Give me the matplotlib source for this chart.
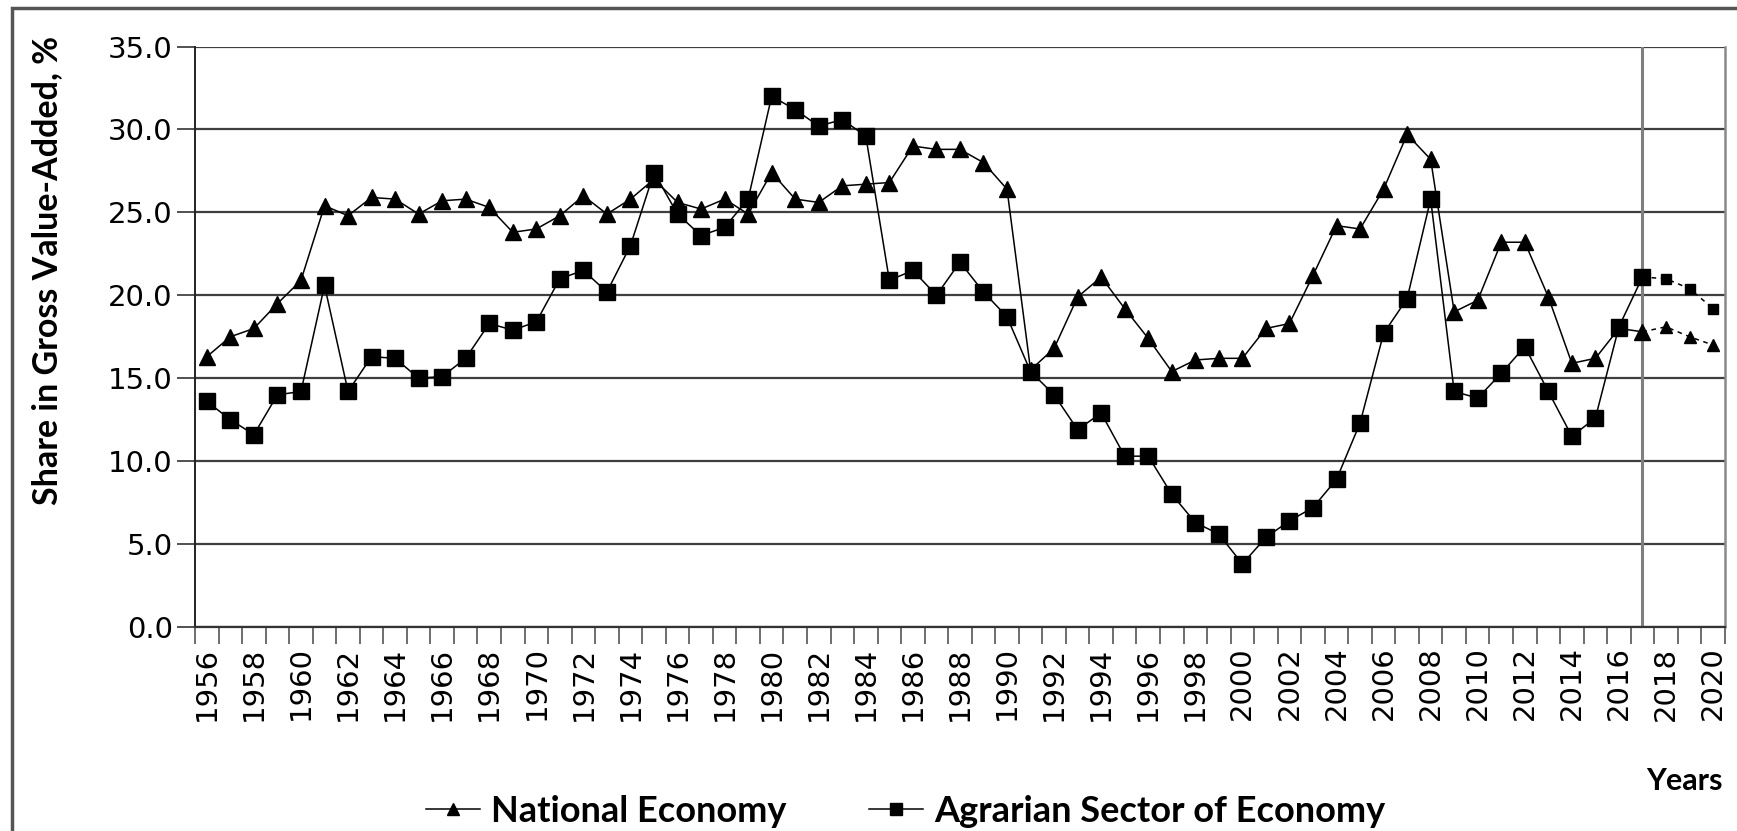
import matplotlib
matplotlib.use("Agg")
import matplotlib.pyplot as plt
from matplotlib.lines import Line2D
from matplotlib.patches import Rectangle

years = list(range(1956, 2021))

national = [16.3, 17.5, 18.0, 19.5, 20.9, 25.4, 24.8, 25.9, 25.8, 24.9,
            25.7, 25.8, 25.3, 23.8, 24.0, 24.8, 26.0, 24.9, 25.8, 27.0,
            25.6, 25.2, 25.8, 24.9, 27.4, 25.8, 25.6, 26.6, 26.7, 26.8,
            29.0, 28.8, 28.8, 28.0, 26.4, 15.5, 16.8, 19.9, 21.1, 19.2,
            17.4, 15.4, 16.1, 16.2, 16.2, 18.0, 18.3, 21.2, 24.2, 24.0,
            26.4, 29.7, 28.2, 19.0, 19.7, 23.2, 23.2, 19.9, 15.9, 16.2,
            18.0, 17.8, 18.1, 17.5, 17.0]

agrarian = [13.6, 12.5, 11.6, 14.0, 14.2, 20.6, 14.2, 16.3, 16.2, 15.0,
            15.1, 16.2, 18.3, 17.9, 18.4, 21.0, 21.5, 20.2, 23.0, 27.4,
            24.9, 23.6, 24.1, 25.8, 32.0, 31.2, 30.2, 30.6, 29.6, 20.9,
            21.5, 20.0, 22.0, 20.2, 18.7, 15.4, 14.0, 11.9, 12.9, 10.3,
            10.3, 8.0, 6.3, 5.6, 3.8, 5.4, 6.4, 7.2, 8.9, 12.3,
            17.7, 19.8, 25.8, 14.2, 13.8, 15.3, 16.9, 14.2, 11.5, 12.6,
            18.1, 21.1, 21.0, 20.4, 19.2]

last_actual_year = 2017
y_ticks = [0, 5, 10, 15, 20, 25, 30, 35]
tick_labels = [str(y) if (y - 1956) % 2 == 0 else "" for y in years]

W, H = 1737, 831
fig = plt.figure(figsize=(W / 100, H / 100), dpi=100)
ax = fig.add_axes([0.1123, 0.2455, 0.8807, 0.6985])

idx = list(range(len(years)))
k = years.index(last_actual_year)

for vals, mk, ms, ms2 in [(national, '^', 12, 8), (agrarian, 's', 11, 7.5)]:
    ax.plot(idx[:k + 1], vals[:k + 1], color='black', lw=1.1, marker=mk,
            markersize=ms, markerfacecolor='black', markeredgecolor='black',
            zorder=4, clip_on=False)
    ax.plot(idx[k:], vals[k:], color='black', lw=1.1, ls=(0, (3, 3)),
            zorder=3, clip_on=False)
    ax.plot(idx[k + 1:], vals[k + 1:], ls='none', marker=mk, markersize=ms2,
            markerfacecolor='black', markeredgecolor='black', zorder=4,
            clip_on=False)

ax.set_xlim(-0.5, len(years) - 0.5)
ax.set_ylim(0, 35)
ax.set_yticks(y_ticks)
ax.set_yticklabels([f"{v:.1f}" for v in y_ticks])
ax.set_xticks([i - 0.5 for i in idx] + [len(years) - 0.5], minor=False)
ax.set_xticklabels([])
ax.set_xticks(idx, minor=True)
ax.set_xticklabels(tick_labels, minor=True, rotation=90)
ax.tick_params(axis='x', which='major', length=12, width=1.2, color='#555555', direction='out')
ax.tick_params(axis='x', which='minor', length=0, pad=14, labelsize=21)
ax.tick_params(axis='y', which='major', length=13, width=1.2, color='#333333', pad=3, labelsize=21)

ax.yaxis.grid(True, color='#3f3f3f', lw=1.6, zorder=1)
ax.set_axisbelow(True)
ax.axvline(k, color='#7f7f7f', lw=2.2, zorder=2)

ax.spines['top'].set_visible(False)
ax.spines['right'].set_color('#8a8a8a')
ax.spines['right'].set_linewidth(1.8)
ax.spines['left'].set_color('#222222')
ax.spines['left'].set_linewidth(1.4)
ax.spines['bottom'].set_color('#333333')
ax.spines['bottom'].set_linewidth(1.6)

bold = dict(family=['Lato', 'DejaVu Sans'], fontweight='bold')
fig.text(0.027, 0.674, "Share in Gross Value-Added, %", rotation=90,
         ha='center', va='center', fontsize=24.5, **bold)
fig.text(0.992, 0.06, "Years", ha='right', va='center', fontsize=22, **bold)

handles = [Line2D([], [], color='black', lw=1.1, marker='^', markersize=9),
           Line2D([], [], color='black', lw=1.1, marker='s', markersize=8)]
fig.legend(handles, ["National Economy", "Agrarian Sector of Economy"],
           loc='center', bbox_to_anchor=(0.5214, 0.024), ncol=2, frameon=False,
           prop=dict(family=['Lato', 'DejaVu Sans'], weight='bold', size=26),
           handlelength=1.5, handletextpad=0.3, columnspacing=2.3,
           borderpad=0, borderaxespad=0)

fig.patches.append(Rectangle((12 / W, -0.1), 1.2, 1.1 - 8 / H,
                             transform=fig.transFigure, fill=False,
                             edgecolor='#555555', lw=2.5))

fig.savefig("out.png", dpi=100)
